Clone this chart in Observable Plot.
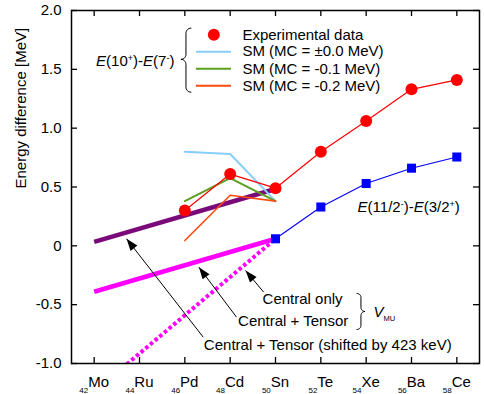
<!DOCTYPE html>
<html><head><meta charset="utf-8">
<script src="https://cdn.jsdelivr.net/npm/d3@7"></script>
<script src="https://cdn.jsdelivr.net/npm/@observablehq/plot@0.6"></script>
<style>
body{margin:0;background:#fff;}
svg text{font-family:"Liberation Sans",Arial,sans-serif;}
</style>
</head><body><div id="chart"></div>
<script>
// ---- axis categories / ticks ----
const protonNumbers = [42, 44, 46, 48, 50, 52, 54, 56, 58];
const elements = ["Mo", "Ru", "Pd", "Cd", "Sn", "Te", "Xe", "Ba", "Ce"];
const yTicks = [-1, -0.5, 0, 0.5, 1, 1.5, 2];
const yTickLabels = ["-1.0", "-0.5", "0", "0.5", "1.0", "1.5", "2.0"];
const yAxisTitle = "Energy difference [MeV]";

// ---- series ----
const expZ = [46, 48, 50, 52, 54, 56, 58];
const expValues = [0.30, 0.61, 0.49, 0.80, 1.06, 1.33, 1.41];          // E(10+)-E(7-) experimental
const oddZ = [50, 52, 54, 56, 58];
const oddValues = [0.06, 0.33, 0.53, 0.66, 0.755];                     // E(11/2-)-E(3/2+)
const smZ = [46, 48, 50];
const smMC0 = [0.80, 0.78, 0.38];
const smMC1 = [0.38, 0.575, 0.38];
const smMC2 = [0.045, 0.43, 0.38];
const vmuZ = [42, 50];
const centralOnly = [-1.24, 0.06];
const centralTensor = [-0.39, 0.06];
const centralTensorShifted = [0.033, 0.483];

// ---- legend ----
const legendLabels = ["Experimental data", "SM (MC = \u00b10.0 MeV)", "SM (MC = -0.1 MeV)", "SM (MC = -0.2 MeV)"];
const legendColors = ["#ff0000", "#87cefa", "#5d9e1f", "#ff4a10"];
const legendRowY = [1.793, 1.650, 1.505, 1.360];
const legendSwatchX1 = 46.51, legendSwatchX2 = 48.06, legendDotX = 47.28, legendTextX = 48.54;

// ---- annotations ----
const evenTitle = "*E*(10^{+})-*E*(7^{-})";
const evenTitleX = 45.54, evenTitleY = 1.572;
const oddTitle = "*E*(11/2^{-})-*E*(3/2^{+})";
const oddTitleX = 53.62, oddTitleY = 0.328;
const arrowLabels = ["Central only", "Central + Tensor", "Central + Tensor (shifted by 423 keV)"];
const arrowLabelX = [49.43, 48.35, 46.84];
const arrowLabelY = [-0.452, -0.641, -0.847];
const arrowTailX = [49.48, 48.28, 46.81];
const arrowTailY = [-0.394, -0.606, -0.776];
const arrowTipX = [48.68, 46.62, 43.43];
const arrowTipY = [-0.210, -0.181, 0.060];
const vmuLabel = "V", vmuSub = "MU";
const vmuX = 54.32, vmuY = -0.567;

// ---- layout ----
const W = 484, H = 394;
const margin = {top: 10, right: 5, bottom: 31, left: 71};
const xDomain = [41, 59], yDomain = [-1, 2];
const frameW = W - margin.left - margin.right, frameH = H - margin.top - margin.bottom;
const kx = frameW / (xDomain[1] - xDomain[0]), ky = frameH / (yDomain[1] - yDomain[0]);

function brace(xv, top, bot, mid, dir, r) {
  const sx = X => (X - xDomain[0]) * kx, sy = Y => (yDomain[1] - Y) * ky;
  const ix = s => xDomain[0] + s / kx, iy = s => yDomain[1] - s / ky;
  const x0 = sx(xv), t = sy(top), b = sy(bot), m = sy(mid);
  const pts = [];
  const arc = (cx, cy, a0, a1) => { for (let k = 0; k <= 8; k++) { const a = a0 + (a1 - a0) * k / 8; pts.push([cx + r * Math.cos(a), cy + r * Math.sin(a)]); } };
  arc(r, t + r, 1.5 * Math.PI, Math.PI);
  arc(-r, m - r, 0, 0.5 * Math.PI);
  arc(-r, m + r, 1.5 * Math.PI, 2 * Math.PI);
  arc(r, b - r, Math.PI, 0.5 * Math.PI);
  return pts.map(([px, py]) => ({x: ix(x0 + dir * px), y: iy(py)}));
}
const brace1 = brace(46.05, 1.85, 1.306, 1.585, 1, 5);
const brace2 = brace(53.77, -0.405, -0.711, -0.558, -1, 4);

const arrowHead = {draw(ctx) { const L = 12, w = 4.3; ctx.moveTo(0, 0); ctx.lineTo(-w, L); ctx.lineTo(w, L); ctx.closePath(); }};
const arrowIdx = arrowTipX.map((_, i) => i);
const arrowRot = i => Math.atan2((arrowTipX[i] - arrowTailX[i]) * kx, (arrowTipY[i] - arrowTailY[i]) * ky) * 180 / Math.PI;

const seq = a => a.map((_, i) => i);
const fs = 15;

const plot = Plot.plot({
  width: W, height: H,
  marginTop: margin.top, marginRight: margin.right, marginBottom: margin.bottom, marginLeft: margin.left,
  x: {domain: xDomain, axis: null},
  y: {domain: yDomain, axis: null},
  style: {background: "white", fontFamily: "Liberation Sans, Arial, sans-serif", fontSize: "15px", overflow: "visible"},
  marks: [
    // V_MU model lines
    Plot.line(vmuZ, {x: d => d, y: (d, i) => centralTensorShifted[i], stroke: "#7a0a7a", strokeWidth: 4.5, strokeLinecap: "butt"}),
    Plot.line(vmuZ, {x: d => d, y: (d, i) => centralTensor[i], stroke: "#ff00ff", strokeWidth: 4.5, strokeLinecap: "butt"}),
    Plot.line(vmuZ, {x: d => d, y: (d, i) => centralOnly[i], stroke: "#ff00ff", strokeWidth: 4, strokeDasharray: "3.5,2.6", strokeLinecap: "butt", clip: true}),
    // SM lines
    Plot.line(smZ, {x: d => d, y: (d, i) => smMC0[i], stroke: legendColors[1], strokeWidth: 2}),
    Plot.line(smZ, {x: d => d, y: (d, i) => smMC1[i], stroke: legendColors[2], strokeWidth: 2}),
    Plot.line(smZ, {x: d => d, y: (d, i) => smMC2[i], stroke: legendColors[3], strokeWidth: 1.6}),
    // experimental
    Plot.line(expZ, {x: d => d, y: (d, i) => expValues[i], stroke: "#ff0000", strokeWidth: 1.2}),
    Plot.dot(expZ, {x: d => d, y: (d, i) => expValues[i], r: 6, fill: "#ff0000"}),
    Plot.line(oddZ, {x: d => d, y: (d, i) => oddValues[i], stroke: "#0000ff", strokeWidth: 1.1}),
    Plot.dot(oddZ, {x: d => d, y: (d, i) => oddValues[i], r: 5.1, symbol: "square", fill: "#0000ff"}),
    // frame & ticks
    Plot.frame({stroke: "black", strokeWidth: 1.5}),
    Plot.ruleY(yTicks, {y: d => d, insetRight: frameW - 6, stroke: "black", strokeWidth: 1.3}),
    Plot.ruleY(yTicks, {y: d => d, insetLeft: frameW - 6, stroke: "black", strokeWidth: 1.3}),
    Plot.ruleX(protonNumbers, {x: d => d, insetTop: frameH - 6, stroke: "black", strokeWidth: 1.3}),
    Plot.ruleX(protonNumbers, {x: d => d, insetBottom: frameH - 6, stroke: "black", strokeWidth: 1.3}),
    // tick labels
    Plot.text(yTicks, {y: d => d, text: (d, i) => yTickLabels[i], frameAnchor: "left", dx: -10, textAnchor: "end", fontSize: fs}),
    Plot.text(protonNumbers, {x: d => d, text: (d, i) => `_{${d}}${elements[i]}`, frameAnchor: "bottom", lineAnchor: "bottom", dy: 23, fontSize: fs}),
    Plot.text([yAxisTitle], {text: d => d, frameAnchor: "left", rotate: -90, dx: -50.5, dy: 1.5, fontSize: fs}),
    // legend
    Plot.dot([0], {x: legendDotX, y: legendRowY[0], r: 6, fill: legendColors[0]}),
    Plot.ruleY([1, 2, 3], {y: i => legendRowY[i], x1: legendSwatchX1, x2: legendSwatchX2, stroke: i => legendColors[i], strokeWidth: 2}),
    Plot.text(seq(legendLabels), {x: legendTextX, y: i => legendRowY[i], text: i => legendLabels[i], textAnchor: "start", fontSize: fs}),
    Plot.line(brace1, {x: "x", y: "y", stroke: "black", strokeWidth: 1}),
    // series titles
    Plot.text([evenTitle], {x: evenTitleX, y: evenTitleY, text: d => d, textAnchor: "end", fontSize: fs}),
    Plot.text([oddTitle], {x: oddTitleX, y: oddTitleY, text: d => d, textAnchor: "start", fontSize: fs}),
    // arrows
    Plot.link(arrowIdx, {x1: i => arrowTailX[i], y1: i => arrowTailY[i], x2: i => arrowTipX[i], y2: i => arrowTipY[i], stroke: "black", strokeWidth: 1}),
    Plot.dot(arrowIdx, {x: i => arrowTipX[i], y: i => arrowTipY[i], symbol: arrowHead, rotate: arrowRot, fill: "black", stroke: "none", r: 5}),
    Plot.text(arrowIdx, {x: i => arrowLabelX[i], y: i => arrowLabelY[i], text: i => arrowLabels[i], textAnchor: "start", fontSize: fs}),
    Plot.line(brace2, {x: "x", y: "y", stroke: "black", strokeWidth: 1}),
    Plot.text([0], {x: vmuX, y: vmuY, text: () => `*${vmuLabel}*_{${vmuSub}}`, textAnchor: "start", fontSize: fs})
  ]
});

// rich text: *italic*, ^{sup}, _{sub}
function toTspans(s) {
  const re = /\^\{([^}]*)\}|_\{([^}]*)\}|\*([^*]+)\*|([^^_*]+)/g;
  let out = "", shift = 0, m;
  const reset = () => { const d = -shift; shift = 0; return d ? ` dy="${d}"` : ""; };
  while ((m = re.exec(s))) {
    if (m[1] != null) { out += `<tspan dy="${-5 - shift}" font-size="9">${m[1]}</tspan>`; shift = -5; }
    else if (m[2] != null) {
      const sub = /^\d+$/.test(m[2]) ? {dy: 6, fsz: 8} : {dy: 4, fsz: 7.5};
      out += `<tspan dy="${sub.dy - shift}" font-size="${sub.fsz}" font-style="normal">${m[2]}</tspan>`; shift = sub.dy;
    }
    else if (m[3] != null) out += `<tspan${reset()} font-style="italic">${m[3]}</tspan>`;
    else out += `<tspan${reset()}>${m[4]}</tspan>`;
  }
  return out;
}
plot.querySelectorAll("text").forEach(t => {
  const s = t.textContent;
  if (/[*^_]/.test(s) && (s.includes("{") || s.includes("*"))) t.innerHTML = toTspans(s);
});
document.getElementById("chart").appendChild(plot);
</script>
</body></html>
